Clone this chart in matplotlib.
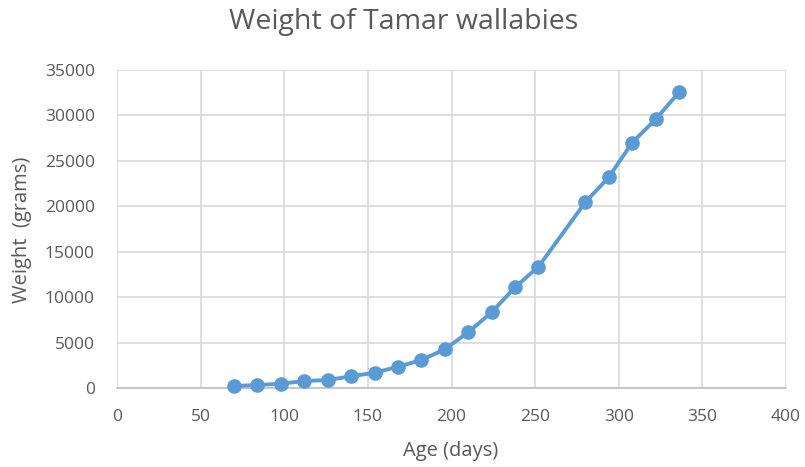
import matplotlib
matplotlib.use('Agg')
import matplotlib.pyplot as plt

# age in days and weight in grams
age_days = [70, 84, 98, 112, 126, 140, 154, 168, 182, 196, 210, 224, 238, 252,
            280, 294, 308, 322, 336]
weight_g = [220, 330, 470, 770, 880, 1290, 1680, 2340, 3080, 4260, 6130, 8330,
            11080, 13350, 20440, 23190, 27000, 29570, 32540]

x_ticks = [0, 50, 100, 150, 200, 250, 300, 350, 400]
y_ticks = [0, 5000, 10000, 15000, 20000, 25000, 30000, 35000]

text_col = '#595959'
plt.rcParams['font.family'] = ['Open Sans', 'DejaVu Sans']

fig = plt.figure(figsize=(8.05, 4.67), dpi=100)
ax = fig.add_axes([117/805, 1 - 388/467, (786 - 117)/805, (388 - 70)/467])

ax.plot(age_days, weight_g, color='#5B9BD5', linewidth=2.8, marker='o',
        markersize=9.5, markerfacecolor='#5B9BD5', markeredgecolor='#5B9BD5',
        zorder=3, clip_on=False)

ax.set_xlim(0, 400); ax.set_ylim(0, 35000)
ax.set_xticks(x_ticks); ax.set_yticks(y_ticks)
ax.grid(True, color='#D9D9D9', linewidth=1.2)
ax.set_axisbelow(True)
for side in ['top', 'right', 'left']:
    ax.spines[side].set_visible(False)
ax.spines['bottom'].set_color('#BFBFBF'); ax.spines['bottom'].set_linewidth(1.2)
ax.tick_params(length=0, labelsize=12.5, labelcolor=text_col)
ax.tick_params(axis='x', pad=15)
ax.tick_params(axis='y', pad=16)

fig.text(404/805, 1 - 22/467, 'Weight of Tamar wallabies',
         ha='center', va='center', fontsize=20.5, color=text_col)
fig.text(451/805, 1 - 451/467, 'Age (days)', ha='center', va='center',
         fontsize=14.5, color=text_col)
fig.text(22/805, 1 - 230/467, 'Weight  (grams)', ha='center', va='center',
         rotation=90, fontsize=14.5, color=text_col)

fig.savefig('out.png', dpi=100)
plt.close(fig)
